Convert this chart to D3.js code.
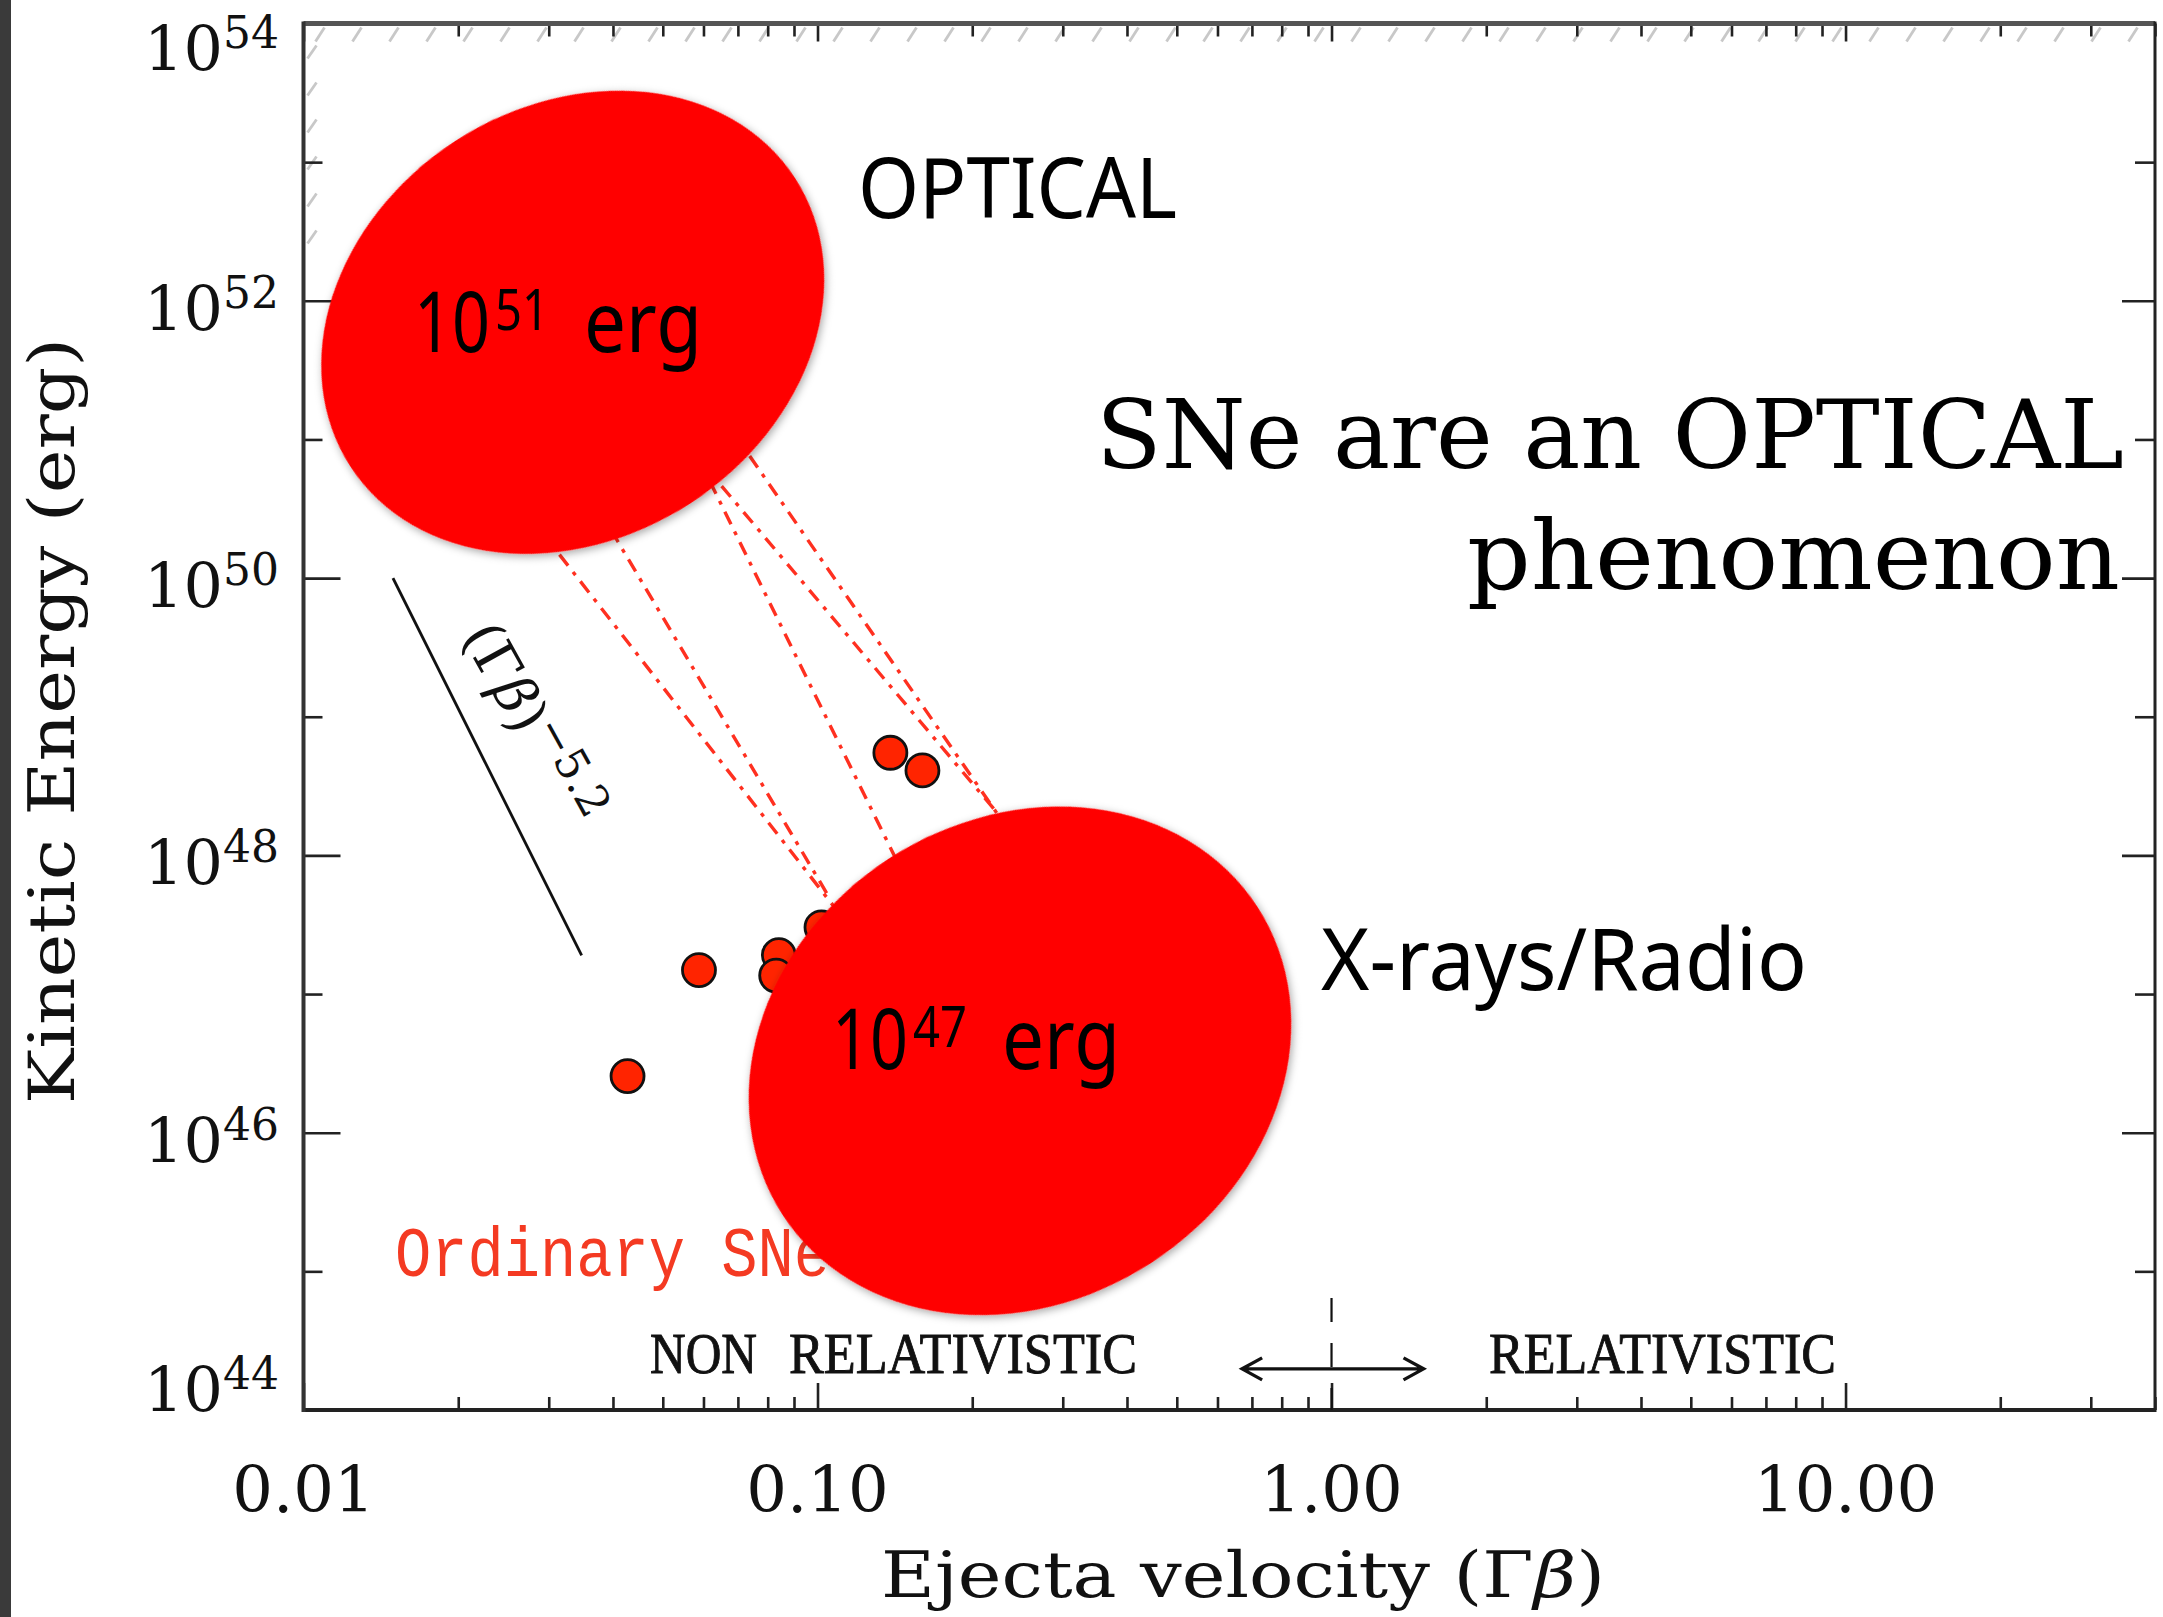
<!DOCTYPE html>
<html><head><meta charset="utf-8">
<script src="https://cdn.jsdelivr.net/npm/d3@7"></script>
<style>html,body{margin:0;padding:0;background:#fff;overflow:hidden}</style>
</head><body><svg id="c" width="2163" height="1617" xmlns="http://www.w3.org/2000/svg"></svg>
<script>
// ---------- data ----------
const xTickValues = [0.01, 0.1, 1, 10];
const xTickLabels = ["0.01", "0.10", "1.00", "10.00"];
const yTickExponents = [44, 46, 48, 50, 52, 54];
const yMinorExponents = [45, 47, 49, 51, 53];

// ordinary SNe (radio-derived ejecta velocity, kinetic energy)
const ordinaryVelocity = [0.0427, 0.0588, 0.0841, 0.0831, 0.1018, 0.1386, 0.160];
const ordinaryEnergy   = [2.56e46, 1.49e47, 1.91e47, 1.36e47, 3.03e47, 5.5e48, 4.1e48];

// dash-dot energy profiles (start / end points)
const profileStartVelocity = [0.0261, 0.0367, 0.0577, 0.059, 0.0738];
const profileStartEnergy   = [3.6e50, 3.6e50, 8.3e50, 7.1e50, 7.6e50];
const profileEndVelocity   = [0.125, 0.106, 0.149, 0.257, 0.236];
const profileEndEnergy     = [2.1e47, 4.8e47, 6.6e47, 1.1e48, 1.5e48];

// (Γβ)^-5.2 reference slope
const slopeVelocity = [0.01493, 0.03476];
const slopeEnergy   = [1e50, 1.9e47];

// annotation blobs (centre in data units)
const blobVelocity = [0.0334, 0.2477];
const blobEnergy   = [7.0e51, 3.3e46];
const blobExponent = ["51", "47"];

// relativistic boundary
const boundaryVelocity = 1.0;
const arrowVelocity = [0.67, 1.51];
const arrowEnergy = 1.98e44;

// ---------- setup ----------
const svg = d3.select("#c");
const x = d3.scaleLog().domain([0.01, 40]).range([303.5, 2155]);
const y = d3.scaleLog().domain([1e44, 1e54]).range([1410, 23.5]);
const X0 = x.range()[0], X1 = x.range()[1], Y0 = y.range()[0], Y1 = y.range()[1];

const defs = svg.append("defs");
const f = defs.append("filter").attr("id", "sh").attr("x", "-20%").attr("y", "-20%").attr("width", "140%").attr("height", "140%");
f.append("feDropShadow").attr("dx", 0).attr("dy", 3).attr("stdDeviation", 4).attr("flood-color", "#000").attr("flood-opacity", 0.35);

// left dark strip (slide edge)
svg.append("rect").attr("x", 0).attr("y", 0).attr("width", 11).attr("height", 1617).attr("fill", "#3a3a3a");

// hatching along top and upper-left border
const hatch = svg.append("g").attr("stroke", "#c8c8c8").attr("stroke-width", 2.8);
d3.range(X0 + 12, X1 - 5, 37).forEach(px => {
  hatch.append("line").attr("x1", px).attr("y1", Y1 + 18).attr("x2", px + 9).attr("y2", Y1 + 4);
});
d3.range(Y1 + 22, 250, 37).forEach(py => {
  hatch.append("line").attr("x1", X0 + 4).attr("y1", py + 13).attr("x2", X0 + 13).attr("y2", py);
});

// ---------- axes (ticks) ----------
const minorX = [];
xTickValues.forEach(d => { for (let k = 2; k <= 9; k++) { const v = k * d; if (v <= 40) minorX.push(v); } });
const majorY = yTickExponents.map(e => Math.pow(10, e));
const minorY = yMinorExponents.map(e => Math.pow(10, e));

function styleAxis(g) {
  g.select(".domain").remove();
  g.selectAll(".tick line").attr("stroke", "#222").attr("stroke-width", 2.6);
  g.selectAll(".tick text").remove();
}
svg.append("g").attr("transform", `translate(0,${Y0})`).call(d3.axisBottom(x).tickValues(xTickValues).tickSizeInner(-27).tickSizeOuter(0).tickFormat("")).call(styleAxis);
svg.append("g").attr("transform", `translate(0,${Y0})`).call(d3.axisBottom(x).tickValues(minorX).tickSizeInner(-13).tickSizeOuter(0).tickFormat("")).call(styleAxis);
svg.append("g").attr("transform", `translate(0,${Y1})`).call(d3.axisTop(x).tickValues(xTickValues).tickSizeInner(-18).tickSizeOuter(0).tickFormat("")).call(styleAxis);
svg.append("g").attr("transform", `translate(0,${Y1})`).call(d3.axisTop(x).tickValues(minorX).tickSizeInner(-13).tickSizeOuter(0).tickFormat("")).call(styleAxis);
svg.append("g").attr("transform", `translate(${X0},0)`).call(d3.axisLeft(y).tickValues(majorY).tickSizeInner(-37).tickSizeOuter(0).tickFormat("")).call(styleAxis);
svg.append("g").attr("transform", `translate(${X0},0)`).call(d3.axisLeft(y).tickValues(minorY).tickSizeInner(-19).tickSizeOuter(0).tickFormat("")).call(styleAxis);
svg.append("g").attr("transform", `translate(${X1},0)`).call(d3.axisRight(y).tickValues(majorY).tickSizeInner(-33).tickSizeOuter(0).tickFormat("")).call(styleAxis);
svg.append("g").attr("transform", `translate(${X1},0)`).call(d3.axisRight(y).tickValues(minorY).tickSizeInner(-20).tickSizeOuter(0).tickFormat("")).call(styleAxis);

// frame
svg.append("line").attr("x1", X0).attr("y1", Y1).attr("x2", X1).attr("y2", Y1).attr("stroke", "#555").attr("stroke-width", 5);
svg.append("line").attr("x1", X0).attr("y1", Y0).attr("x2", X1).attr("y2", Y0).attr("stroke", "#222").attr("stroke-width", 4);
svg.append("line").attr("x1", X0).attr("y1", Y1 - 2).attr("x2", X0).attr("y2", Y0 + 2).attr("stroke", "#333").attr("stroke-width", 4);
svg.append("line").attr("x1", X1).attr("y1", Y1 - 2).attr("x2", X1).attr("y2", Y0 + 2).attr("stroke", "#222").attr("stroke-width", 3);

// ---------- tick labels ----------
const serif = "'DejaVu Serif', serif";
svg.append("g").selectAll("text").data(xTickValues).join("text")
  .attr("x", d => x(d)).attr("y", Y0 + 102)
  .attr("text-anchor", "middle").attr("font-family", serif).attr("font-size", 64).attr("fill", "#111")
  .text((d, i) => xTickLabels[i]);

const yl = svg.append("g").selectAll("text").data(yTickExponents).join("text")
  .attr("x", 279)
  .attr("y", e => y(Math.pow(10, e)) + (e === 54 ? 46 : (e === 44 ? 1 : 29)))
  .attr("text-anchor", "end").attr("font-family", serif).attr("font-size", 62).attr("fill", "#111");
yl.append("tspan").text("10");
yl.append("tspan").attr("dy", -22).attr("font-size", 44).text(e => String(e));

// axis titles
svg.append("text").attr("x", 881).attr("y", 1597).attr("font-family", serif).attr("font-size", 64)
  .attr("textLength", 724).attr("lengthAdjust", "spacingAndGlyphs").attr("fill", "#111")
  .call(t => { t.append("tspan").text("Ejecta velocity (Γ"); t.append("tspan").attr("font-style", "italic").text("β"); t.append("tspan").text(")"); });

svg.append("text").attr("transform", "translate(74,721) rotate(-90)").attr("text-anchor", "middle")
  .attr("font-family", serif).attr("font-size", 64).attr("textLength", 766).attr("lengthAdjust", "spacingAndGlyphs")
  .attr("fill", "#111").text("Kinetic Energy (erg)");

// ---------- profiles ----------
const prof = svg.append("g");
profileStartVelocity.forEach((v, i) => {
  prof.append("line")
    .attr("x1", x(v)).attr("y1", y(profileStartEnergy[i]))
    .attr("x2", x(profileEndVelocity[i])).attr("y2", y(profileEndEnergy[i]))
    .attr("stroke", "#ff3020").attr("stroke-width", 3.4)
    .attr("stroke-dasharray", "14,8,4,8");
});

// reference slope line + label
svg.append("line").attr("x1", x(slopeVelocity[0])).attr("y1", y(slopeEnergy[0]))
  .attr("x2", x(slopeVelocity[1])).attr("y2", y(slopeEnergy[1]))
  .attr("stroke", "#111").attr("stroke-width", 2.8);
const sx0 = x(slopeVelocity[0]), sy0 = y(slopeEnergy[0]);
const st = svg.append("text").attr("transform", `translate(${sx0 + 68},${sy0 + 58}) rotate(61)`)
  .attr("font-family", serif).attr("font-size", 56).attr("fill", "#111");
st.append("tspan").text("(Γ");
st.append("tspan").attr("font-style", "italic").text("β");
st.append("tspan").text(")");
st.append("tspan").attr("dy", -20).attr("font-size", 44).text("−5.2");

// data points
svg.append("g").selectAll("circle").data(ordinaryVelocity).join("circle")
  .attr("cx", d => x(d)).attr("cy", (d, i) => y(ordinaryEnergy[i])).attr("r", 16.5)
  .attr("fill", "#ff2400").attr("stroke", "#111").attr("stroke-width", 2.8);

// ordinary SNe label
svg.append("text").attr("x", 395).attr("y", 1276).attr("font-family", "'Liberation Mono', 'DejaVu Sans Mono', monospace")
  .attr("font-size", 70).attr("textLength", 435).attr("lengthAdjust", "spacingAndGlyphs")
  .attr("fill", "#f43a22").text("Ordinary SNe");

// relativistic boundary
svg.append("line").attr("x1", x(boundaryVelocity)).attr("x2", x(boundaryVelocity)).attr("y1", 1298).attr("y2", Y0)
  .attr("stroke", "#111").attr("stroke-width", 2.2).attr("stroke-dasharray", "24,21");
const ay = y(arrowEnergy), axL = x(arrowVelocity[0]), axR = x(arrowVelocity[1]);
svg.append("path").attr("d", `M${axL},${ay}H${axR}M${axL + 20},${ay - 11}L${axL},${ay}L${axL + 20},${ay + 11}M${axR - 20},${ay - 11}L${axR},${ay}L${axR - 20},${ay + 11}`)
  .attr("fill", "none").attr("stroke", "#111").attr("stroke-width", 3.4).attr("stroke-linejoin", "miter");
const regime = "'Liberation Serif', 'DejaVu Serif', serif";
[["NON", 650, 107], ["RELATIVISTIC", 789, 348], ["RELATIVISTIC", 1489, 347]].forEach(([t, px, len]) => {
  svg.append("text").attr("x", px).attr("y", 1372.7).attr("font-family", regime).attr("font-size", 57)
    .attr("textLength", len).attr("lengthAdjust", "spacingAndGlyphs").attr("fill", "#111")
    .attr("stroke", "#111").attr("stroke-width", 0.9).text(t);
});

// ---------- slide annotations ----------
const sans = "'Noto Sans', 'Open Sans', sans-serif";
const blobs = [{rx: 265, ry: 216, rot: -33}, {rx: 283, ry: 241, rot: -33}];
blobVelocity.forEach((v, i) => {
  const cx = x(v), cy = y(blobEnergy[i]);
  svg.append("ellipse").attr("cx", 0).attr("cy", 0).attr("rx", blobs[i].rx).attr("ry", blobs[i].ry)
    .attr("transform", `translate(${cx},${cy}) rotate(${blobs[i].rot})`)
    .attr("fill", "#ff0000").attr("filter", "url(#sh)");
});
function blobLabel(x0, base, exp) {
  svg.append("text").attr("x", x0).attr("y", base).attr("font-family", sans).attr("font-size", 84)
    .attr("textLength", 76).attr("lengthAdjust", "spacingAndGlyphs").attr("fill", "#000").text("10");
  svg.append("text").attr("x", x0 + 81).attr("y", base - 22).attr("font-family", sans).attr("font-size", 56)
    .attr("textLength", 54).attr("lengthAdjust", "spacingAndGlyphs").attr("fill", "#000").text(exp);
  svg.append("text").attr("x", x0 + 170).attr("y", base).attr("font-family", sans).attr("font-size", 84)
    .attr("textLength", 118).attr("lengthAdjust", "spacingAndGlyphs").attr("fill", "#000").text("erg");
}
blobLabel(414, 352, blobExponent[0]);
blobLabel(832, 1069, blobExponent[1]);

svg.append("text").attr("x", 858).attr("y", 218).attr("font-family", sans).attr("font-size", 84)
  .attr("textLength", 319).attr("lengthAdjust", "spacingAndGlyphs").attr("fill", "#000").text("OPTICAL");
svg.append("text").attr("x", 1321).attr("y", 990).attr("font-family", sans).attr("font-size", 86)
  .attr("textLength", 486).attr("lengthAdjust", "spacingAndGlyphs").attr("fill", "#000").text("X-rays/Radio");

svg.append("text").attr("x", 1096).attr("y", 468).attr("font-family", serif).attr("font-size", 96)
  .attr("textLength", 1028).attr("lengthAdjust", "spacingAndGlyphs").attr("fill", "#000").text("SNe are an OPTICAL");
svg.append("text").attr("x", 1467).attr("y", 589).attr("font-family", serif).attr("font-size", 96)
  .attr("textLength", 653).attr("lengthAdjust", "spacingAndGlyphs").attr("fill", "#000").text("phenomenon");
</script>
</body></html>
